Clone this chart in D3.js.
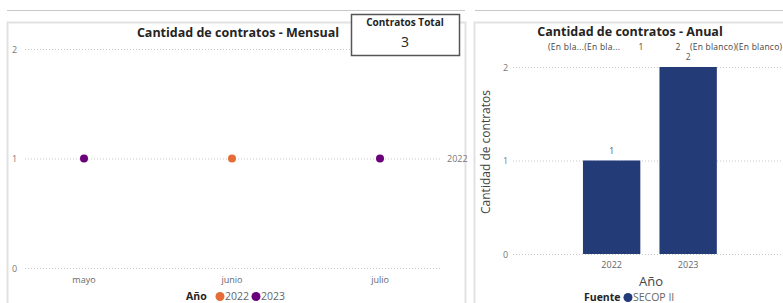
<!DOCTYPE html>
<html><head><meta charset="utf-8">
<script src="https://cdn.jsdelivr.net/npm/d3@7"></script>
<style>
body{margin:0;background:#fff;}
svg{display:block;font-family:"Open Sans","Noto Sans",sans-serif;}
</style></head>
<body>
<svg id="c" width="783" height="303"></svg>
<script>
// ---- data ----
const months = ["mayo", "junio", "julio"];
const monthlyYears = ["2023", "2022", "2023"];
const monthlyValues = [1, 1, 1];
const legendYears = ["2022", "2023"];
const yearColors = ["#E66C37", "#6B007B"];
const annualYears = ["2022", "2023"];
const annualValues = [1, 2];
const yTicks = [0, 1, 2];
const totalContracts = 3;
const fuente = ["SECOP II"];

const svg = d3.select("#c");

// frames
svg.append("line").attr("x1",7).attr("x2",465).attr("y1",10.5).attr("y2",10.5).attr("stroke","#c8c8c8");
svg.append("line").attr("x1",475).attr("x2",783).attr("y1",10.5).attr("y2",10.5).attr("stroke","#c8c8c8");
svg.append("path").attr("d","M7.5,303V22.5H465.5V303").attr("fill","none").attr("stroke","#e2e2e2").attr("stroke-width",2);
svg.append("path").attr("d","M474.5,303V22.5H783").attr("fill","none").attr("stroke","#e2e2e2").attr("stroke-width",2);

// ---- left chart ----
const xL = d3.scalePoint().domain(months).range([10, 454]).padding(0.5);
const yL = d3.scaleLinear().domain([0, 2]).range([268, 49]);
const colorL = d3.scaleOrdinal().domain(legendYears).range(yearColors);

svg.append("text").attr("x",238).attr("y",37).attr("text-anchor","middle")
  .attr("font-weight","bold").attr("font-size",12.5).attr("fill","#252423").text("Cantidad de contratos - Mensual");

const gL = svg.append("g");
gL.selectAll("line.g").data(yTicks).join("line")
  .attr("x1",25).attr("x2",440).attr("y1",d=>yL(d)+0.5).attr("y2",d=>yL(d)+0.5)
  .attr("stroke","#c8c8c8").attr("stroke-dasharray","1,2");
gL.selectAll("text.yt").data(yTicks).join("text")
  .attr("x",12).attr("y",d=>yL(d)+3.5).attr("font-size",9).attr("fill","#777").text(d=>d);
gL.selectAll("text.xt").data(months).join("text")
  .attr("x",d=>xL(d)).attr("y",283).attr("text-anchor","middle").attr("font-size",9).attr("fill","#666").text(d=>d);
gL.selectAll("circle").data(months).join("circle")
  .attr("cx",d=>xL(d)).attr("cy",(d,i)=>yL(monthlyValues[i])).attr("r",4)
  .attr("fill",(d,i)=>colorL(monthlyYears[i]));
gL.append("text").attr("x",447).attr("y",yL(1)+3.5).attr("font-size",9).attr("fill","#777").text("2022");

// legend left
const lg = svg.append("g");
lg.append("text").attr("x",186).attr("y",300).attr("font-weight","bold").attr("font-size",10.5).attr("fill","#252423").text("Año");
legendYears.forEach((y,i)=>{
  const x0 = 220 + i*36;
  lg.append("circle").attr("cx",x0).attr("cy",296.5).attr("r",4.5).attr("fill",colorL(y));
  lg.append("text").attr("x",x0+5).attr("y",300).attr("font-size",10.5).attr("fill","#666").text(y);
});

// total card
svg.append("rect").attr("x",351.5).attr("y",14.5).attr("width",108).attr("height",41)
  .attr("fill","#fff").attr("stroke","#555").attr("stroke-width",1.5);
svg.append("text").attr("x",405).attr("y",26).attr("text-anchor","middle").attr("font-weight","bold")
  .attr("font-size",10).attr("fill","#252423").text("Contratos Total");
svg.append("text").attr("x",405).attr("y",47).attr("text-anchor","middle")
  .attr("font-size",14).attr("fill","#252423").text(totalContracts);

// ---- right chart ----
const xR = d3.scaleBand().domain(annualYears).range([573.4, 726.4]).paddingInner(0.25).paddingOuter(0.125);
const yR = d3.scaleLinear().domain([0, 2]).range([254, 67]);

svg.append("text").attr("x",630).attr("y",36).attr("text-anchor","middle")
  .attr("font-weight","bold").attr("font-size",12.5).attr("fill","#252423").text("Cantidad de contratos - Anual");
const sub = svg.append("g").attr("font-size",8.5).attr("fill","#444");
sub.append("text").attr("x",548).attr("y",50).attr("textLength",72).text("(En bla...(En bla...");
sub.append("text").attr("x",641).attr("y",50).attr("text-anchor","middle").text("1");
sub.append("text").attr("x",678).attr("y",50).attr("text-anchor","middle").text("2");
sub.append("text").attr("x",690).attr("y",50).attr("textLength",92).text("(En blanco)(En blanco)");

const gR = svg.append("g");
gR.selectAll("line").data(yTicks).join("line")
  .attr("x1",513).attr("x2",783).attr("y1",d=>yR(d)+0.5).attr("y2",d=>yR(d)+0.5)
  .attr("stroke","#c8c8c8").attr("stroke-dasharray","1,2");
gR.selectAll("text.yt").data(yTicks).join("text")
  .attr("x",503).attr("y",d=>yR(d)+3.5).attr("font-size",9).attr("fill","#777").text(d=>d);
gR.selectAll("rect").data(annualYears).join("rect")
  .attr("x",d=>xR(d)).attr("width",xR.bandwidth())
  .attr("y",(d,i)=>yR(annualValues[i])).attr("height",(d,i)=>yR(0)-yR(annualValues[i]))
  .attr("fill","#233B77");
gR.selectAll("text.v").data(annualYears).join("text")
  .attr("x",d=>xR(d)+xR.bandwidth()/2).attr("y",(d,i)=>yR(annualValues[i])-7)
  .attr("text-anchor","middle").attr("font-size",8.5).attr("fill","#555").text((d,i)=>annualValues[i]);
gR.selectAll("text.xt").data(annualYears).join("text")
  .attr("x",d=>xR(d)+xR.bandwidth()/2).attr("y",268).attr("text-anchor","middle")
  .attr("font-size",9).attr("fill","#666").text(d=>d);
svg.append("text").attr("x",651).attr("y",286).attr("text-anchor","middle").attr("font-size",13).attr("fill","#444").text("Año");
svg.append("text").attr("transform","translate(490,152) rotate(-90)").attr("text-anchor","middle")
  .attr("font-size",12).attr("fill","#444").text("Cantidad de contratos");

// legend right
svg.append("text").attr("x",584).attr("y",301).attr("font-weight","bold").attr("font-size",10.5).attr("fill","#252423").text("Fuente");
svg.append("circle").attr("cx",628).attr("cy",297.5).attr("r",4.5).attr("fill","#233B77");
svg.append("text").attr("x",633).attr("y",301).attr("font-size",10.5).attr("fill","#666").text(fuente[0]);
</script>
</body></html>
